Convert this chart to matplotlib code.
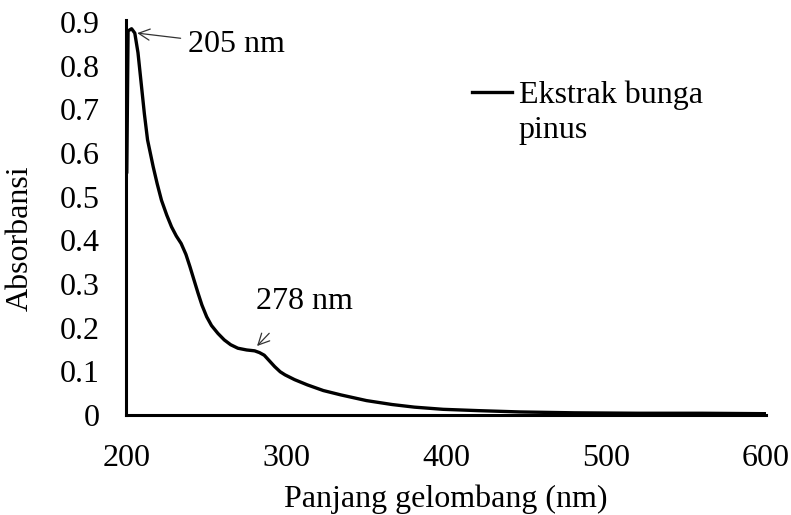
import matplotlib
matplotlib.use("Agg")
import matplotlib.pyplot as plt

wavelength = [200, 200.8, 203, 205, 207, 209, 211, 213, 216.5, 219, 221.7, 225, 228,
              231, 234, 237, 239.5, 242, 244.6, 247, 250, 253, 257, 261, 265, 269.5,
              275, 280, 283, 286, 289, 292.5, 296, 299, 305, 313, 323, 334, 350, 366,
              380, 398, 420, 446, 480, 520, 560, 600]
absorbance = [0.557, 0.88, 0.885, 0.875, 0.83, 0.76, 0.69, 0.63, 0.569, 0.53, 0.492,
              0.458, 0.431, 0.41, 0.393, 0.368, 0.340, 0.31, 0.279, 0.252, 0.225,
              0.205, 0.187, 0.172, 0.161, 0.153, 0.149, 0.147, 0.143, 0.137, 0.125,
              0.111, 0.099, 0.092, 0.081, 0.069, 0.056, 0.046, 0.033, 0.024, 0.018,
              0.013, 0.01, 0.007, 0.005, 0.004, 0.004, 0.003]
x_ticks = [200, 300, 400, 500, 600]
y_ticks = [0, 0.1, 0.2, 0.3, 0.4, 0.5, 0.6, 0.7, 0.8, 0.9]
y_tick_labels = ["0", "0.1", "0.2", "0.3", "0.4", "0.5", "0.6", "0.7", "0.8", "0.9"]
series_label = "Ekstrak bunga\npinus"
peaks = [(205, 0.875, "205 nm"), (278, 0.150, "278 nm")]

plt.rcParams['font.family'] = ['Liberation Serif', 'DejaVu Serif']

fig = plt.figure(figsize=(7.91, 5.15), dpi=100)
ax = fig.add_axes([126/791, 1 - 415/515, (766-126)/791, (415-20)/515])

ax.plot(wavelength, absorbance, color='black', lw=2.4, solid_joinstyle='round',
        label=series_label)

ax.set_xlim(199.5, 600)
ax.set_ylim(0, 0.905)
ax.set_xticks(x_ticks)
ax.set_yticks(y_ticks)
ax.set_yticklabels(y_tick_labels)
ax.tick_params(length=0, labelsize=23)
ax.tick_params(axis='y', pad=19)
ax.tick_params(axis='x', pad=21)
for s in ['top', 'right']:
    ax.spines[s].set_visible(False)
for s in ['left', 'bottom']:
    ax.spines[s].set_linewidth(2.2)

ax.set_xlabel("Panjang gelombang (nm)", fontsize=23, labelpad=8)
ax.set_ylabel("Absorbansi", fontsize=23)
ax.yaxis.set_label_coords(-0.166, 0.448)
ax.yaxis.label.set_verticalalignment('center')

ax.annotate(peaks[0][2], xy=(peaks[0][0] + 1.5, peaks[0][1]), xytext=(238, 0.848),
            fontsize=23, va='center', ha='left',
            arrowprops=dict(arrowstyle='->', color='#333333', lw=0.9,
                            shrinkA=3, shrinkB=0, mutation_scale=20))
ax.annotate(peaks[1][2], xy=(peaks[1][0] + 3.5, peaks[1][1] + 0.008), xytext=(281, 0.259),
            fontsize=23, va='center', ha='left',
            arrowprops=dict(arrowstyle='->', color='#333333', lw=0.9,
                            shrinkA=14, shrinkB=0, mutation_scale=20,
                            relpos=(0.3, 0.0)))

leg = ax.legend(loc='upper left', bbox_to_anchor=(0.541, 0.848), frameon=False,
                fontsize=23, handlelength=1.25, handletextpad=0.2,
                borderaxespad=0, labelspacing=0, borderpad=0)
for t in leg.get_texts():
    t.set_linespacing(1.3)
for h in leg.legend_handles:
    yd = h.get_ydata()
    h.set_ydata([y + 15 for y in yd])

fig.savefig("out.png", dpi=100)
